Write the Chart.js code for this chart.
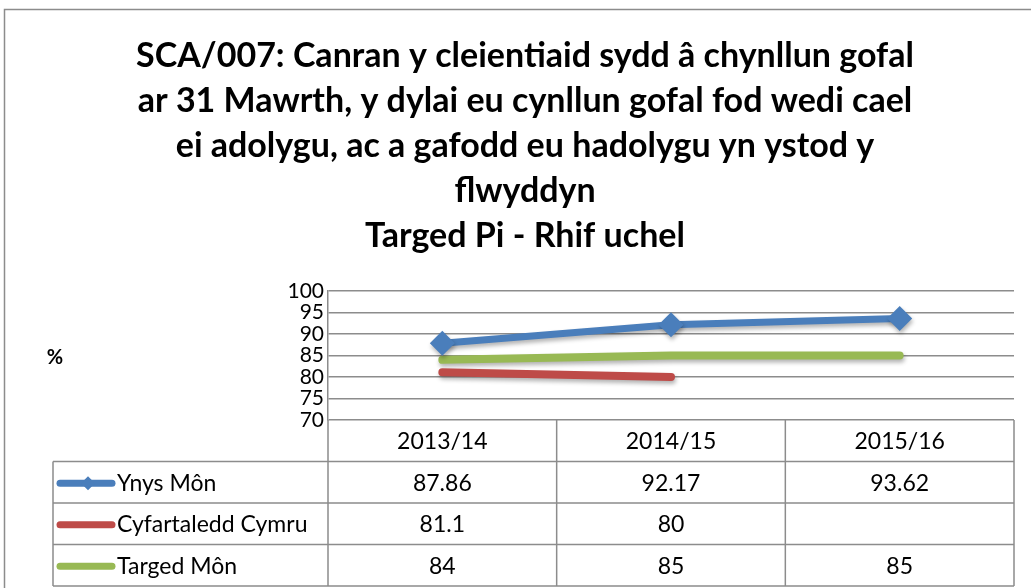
<!DOCTYPE html>
<html>
<head>
<meta charset="utf-8">
<title>SCA/007</title>
<script src="https://cdn.jsdelivr.net/npm/chart.js@4.4.1/dist/chart.umd.min.js"></script>
<style>
  html, body { margin: 0; padding: 0; background: #fff; }
  #wrap { width: 1031px; height: 588px; position: relative; }
</style>
</head>
<body>
<div id="wrap"><canvas id="scaChart" width="1031" height="588"></canvas></div>
<script>
// data
const years = ['2013/14', '2014/15', '2015/16'];
const ynysMon = [87.86, 92.17, 93.62];
const cyfartaleddCymru = [81.1, 80, null];
const targedMon = [84, 85, 85];
const seriesNames = ['Ynys Môn', 'Cyfartaledd Cymru', 'Targed Môn'];
const yTicks = [70, 75, 80, 85, 90, 95, 100];
const titleLines = [
    'SCA/007: Canran y cleientiaid sydd â chynllun gofal',
    'ar 31 Mawrth, y dylai eu cynllun gofal fod wedi cael',
    'ei adolygu, ac a gafodd eu hadolygu yn ystod y',
    'flwyddyn',
    'Targed Pi - Rhif uchel'
];

const FONT = 'Lato, "Open Sans", sans-serif';
const GRID = '#8c8c8c';
const colours = ['#4a7ebb', '#be4b48', '#98b954'];

// drop shadow like the Excel original
const shadowPlugin = {
    id: 'lineShadow',
    beforeDatasetsDraw(chart) {
        const ctx = chart.ctx;
        ctx.save();
        ctx.shadowColor = 'rgba(0,0,0,0.3)';
        ctx.shadowBlur = 4;
        ctx.shadowOffsetX = 1;
        ctx.shadowOffsetY = 3;
    },
    afterDatasetsDraw(chart) {
        chart.ctx.restore();
    }
};

// data table under the plot + frame + "%" label
const tablePlugin = {
    id: 'dataTable',
    afterDraw(chart) {
        const ctx = chart.ctx;
        const area = chart.chartArea;
        const xs = chart.scales.x;
        const colW = (area.right - area.left) / years.length;
        const rowH = (chart.height - 2 - area.bottom) / 4;
        const tableLeft = 53;
        const allRows = [ynysMon, cyfartaleddCymru, targedMon];

        ctx.save();
        // outer frame
        ctx.strokeStyle = GRID;
        ctx.lineWidth = 1.5;
        ctx.strokeRect(4.5, 9.5, 1100, 700);

        // "%" label
        ctx.fillStyle = '#000';
        ctx.font = 'bold 20px ' + FONT;
        ctx.textAlign = 'center';
        ctx.textBaseline = 'middle';
        ctx.fillText('%', 55, 358);

        // grid of the table
        ctx.strokeStyle = GRID;
        ctx.lineWidth = 1.5;
        ctx.beginPath();
        for (let r = 1; r <= 4; r++) {
            const y = area.bottom + r * rowH;
            ctx.moveTo(tableLeft, y);
            ctx.lineTo(area.right, y);
        }
        ctx.moveTo(tableLeft, area.bottom + rowH);
        ctx.lineTo(tableLeft, area.bottom + 4 * rowH);
        for (let c = 0; c <= years.length; c++) {
            const x = area.left + c * colW;
            ctx.moveTo(x, area.bottom);
            ctx.lineTo(x, area.bottom + 4 * rowH);
        }
        ctx.stroke();

        // header
        ctx.fillStyle = '#000';
        ctx.font = '23px ' + FONT;
        ctx.textAlign = 'center';
        ctx.textBaseline = 'middle';
        years.forEach(function (y, i) {
            ctx.fillText(y, xs.getPixelForValue(i), area.bottom + rowH / 2 + 1);
        });

        // rows
        allRows.forEach(function (vals, r) {
            const cy = area.bottom + (r + 1.5) * rowH + 1;
            // legend key
            ctx.strokeStyle = colours[r];
            ctx.lineWidth = 7;
            ctx.lineCap = 'round';
            ctx.beginPath();
            ctx.moveTo(60, cy);
            ctx.lineTo(112, cy);
            ctx.stroke();
            if (r === 0) {
                ctx.fillStyle = colours[r];
                ctx.beginPath();
                ctx.moveTo(88, cy - 7);
                ctx.lineTo(95, cy);
                ctx.lineTo(88, cy + 7);
                ctx.lineTo(81, cy);
                ctx.closePath();
                ctx.fill();
            }
            ctx.fillStyle = '#000';
            ctx.textAlign = 'left';
            ctx.fillText(seriesNames[r], 117, cy);
            ctx.textAlign = 'center';
            vals.forEach(function (v, i) {
                if (v !== null) ctx.fillText(String(v), xs.getPixelForValue(i), cy);
            });
        });
        ctx.restore();
    }
};

document.addEventListener('DOMContentLoaded', function () {
    const canvas = document.getElementById('scaChart');

    new Chart(canvas, {
        type: 'line',
        data: {
            labels: years,
            datasets: [
                {
                    label: seriesNames[0],
                    data: ynysMon,
                    borderColor: colours[0],
                    backgroundColor: colours[0],
                    borderWidth: 7,
                    pointStyle: 'rectRot',
                    pointRadius: 12.5,
                    pointHoverRadius: 12.5,
                    pointBorderWidth: 0,
                    borderCapStyle: 'round',
                    borderJoinStyle: 'round'
                },
                {
                    label: seriesNames[1],
                    data: cyfartaleddCymru,
                    borderColor: colours[1],
                    backgroundColor: colours[1],
                    borderWidth: 8,
                    pointRadius: 0,
                    borderCapStyle: 'round'
                },
                {
                    label: seriesNames[2],
                    data: targedMon,
                    borderColor: colours[2],
                    backgroundColor: colours[2],
                    borderWidth: 8,
                    pointRadius: 0,
                    borderCapStyle: 'round'
                }
            ]
        },
        options: {
            responsive: false,
            animation: false,
            layout: { padding: { left: 36, right: 17, top: 0, bottom: 168 } },
            scales: {
                x: {
                    display: false,
                    offset: true
                },
                y: {
                    min: 70,
                    max: 100,
                    afterFit: function (scale) { scale.width = 292; },
                    afterBuildTicks: function (scale) {
                        scale.ticks = yTicks.map(function (v) { return { value: v }; });
                    },
                    grid: { color: GRID, lineWidth: 1.5, drawTicks: false },
                    border: { display: true, color: GRID, width: 1.5 },
                    ticks: {
                        color: '#000',
                        padding: 4,
                        autoSkip: false,
                        font: { family: FONT, size: 21 }
                    }
                }
            },
            plugins: {
                legend: { display: false },
                tooltip: { enabled: false },
                title: {
                    display: true,
                    text: titleLines,
                    color: '#000',
                    font: { family: FONT, size: 34, weight: 'bold', lineHeight: 45 / 34 },
                    padding: { top: 34, bottom: 32 }
                }
            }
        },
        plugins: [shadowPlugin, tablePlugin]
    });
});
</script>
</body>
</html>
